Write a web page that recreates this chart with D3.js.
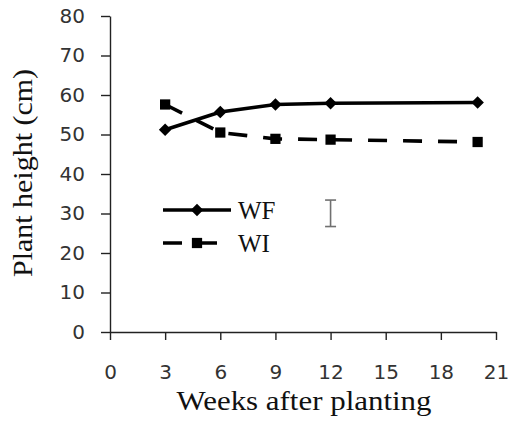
<html>
<head>
<script src="https://cdn.jsdelivr.net/npm/d3@7"></script>
</head>
<body style="margin:0;background:#fff">
<svg width="508" height="423" id="chart"></svg>
<script>
// data
var weeks = [3, 6, 9, 12, 20];
var wf = [51.2, 55.7, 57.6, 57.9, 58.1];
var wi = [57.6, 50.5, 48.9, 48.7, 48.1];
var seriesNames = ["WF", "WI"];
var xTicks = [0, 3, 6, 9, 12, 15, 18, 21];
var yTicks = [0, 10, 20, 30, 40, 50, 60, 70, 80];
var errBar = {x: 12, lo: 26.7, hi: 33.4};

var svg = d3.select("#chart");

var x = d3.scaleLinear().domain([0, 21]).range([110, 496]);
var y = d3.scaleLinear().domain([0, 80]).range([332, 16]);

// axes
var xAxis = svg.append("g")
  .attr("transform", "translate(0,332)")
  .call(d3.axisBottom(x).tickValues(xTicks).tickSize(8).tickSizeOuter(0).tickPadding(25));
var yAxis = svg.append("g")
  .attr("transform", "translate(110,0)")
  .call(d3.axisLeft(y).tickValues(yTicks).tickSize(9).tickSizeOuter(0).tickPadding(16));

[xAxis, yAxis].forEach(function(a){
  a.selectAll("path, line").attr("stroke", "#222").attr("stroke-width", 1.4);
  a.selectAll("text")
    .attr("fill", "#333")
    .style("font-family", "DejaVu Sans, sans-serif")
    .style("font-size", "20px");
});

// lines
var line = d3.line()
  .x(function(d){ return x(d[0]); })
  .y(function(d){ return y(d[1]); });

var wfPts = weeks.map(function(w, i){ return [w, wf[i]]; });
var wiPts = weeks.map(function(w, i){ return [w, wi[i]]; });

svg.append("path").datum(wiPts)
  .attr("d", line).attr("fill", "none")
  .attr("stroke", "#000").attr("stroke-width", 3.6)
  .attr("stroke-dasharray", "19,16");
svg.append("path").datum(wfPts)
  .attr("d", line).attr("fill", "none")
  .attr("stroke", "#000").attr("stroke-width", 3.6);

var diamond = d3.symbol().type(d3.symbolDiamond2).size(100);
var square = d3.symbol().type(d3.symbolSquare).size(105);

svg.selectAll(".wi").data(wiPts).enter().append("path")
  .attr("transform", function(d){ return "translate(" + x(d[0]) + "," + y(d[1]) + ")"; })
  .attr("d", square).attr("fill", "#000");
svg.selectAll(".wf").data(wfPts).enter().append("path")
  .attr("transform", function(d){ return "translate(" + x(d[0]) + "," + y(d[1]) + ")"; })
  .attr("d", diamond).attr("fill", "#000");

// error bar
var eb = svg.append("g").attr("stroke", "#707070").attr("stroke-width", 1.6);
eb.append("line").attr("x1", x(errBar.x)).attr("x2", x(errBar.x)).attr("y1", y(errBar.lo)).attr("y2", y(errBar.hi));
eb.append("line").attr("x1", x(errBar.x) - 5.5).attr("x2", x(errBar.x) + 5.5).attr("y1", y(errBar.lo)).attr("y2", y(errBar.lo));
eb.append("line").attr("x1", x(errBar.x) - 5.5).attr("x2", x(errBar.x) + 5.5).attr("y1", y(errBar.hi)).attr("y2", y(errBar.hi));

// legend
var leg = svg.append("g");
seriesNames.forEach(function(name, i){
  var ly = 210 + i * 33;
  leg.append("line").attr("x1", 163).attr("x2", 231).attr("y1", ly).attr("y2", ly)
    .attr("stroke", "#000").attr("stroke-width", 3.6)
    .attr("stroke-dasharray", i === 1 ? "19,16" : null);
  leg.append("path").attr("transform", "translate(197," + ly + ")")
    .attr("d", i === 0 ? diamond : square).attr("fill", "#000");
  leg.append("text").attr("x", 238).attr("y", ly + 9)
    .style("font-family", "Liberation Serif, Times New Roman, serif")
    .style("font-size", "25px").attr("fill", "#111").text(name);
});

// axis titles
svg.append("text")
  .attr("x", 304).attr("y", 410).attr("text-anchor", "middle")
  .attr("textLength", 255).attr("lengthAdjust", "spacingAndGlyphs")
  .style("font-family", "Liberation Serif, Times New Roman, serif")
  .style("font-size", "28px").attr("fill", "#111")
  .text("Weeks after planting");

svg.append("text")
  .attr("transform", "translate(32,173) rotate(-90)")
  .attr("text-anchor", "middle")
  .attr("textLength", 208).attr("lengthAdjust", "spacingAndGlyphs")
  .style("font-family", "Liberation Serif, Times New Roman, serif")
  .style("font-size", "28px").attr("fill", "#111")
  .text("Plant height (cm)");
</script>
</body>
</html>
